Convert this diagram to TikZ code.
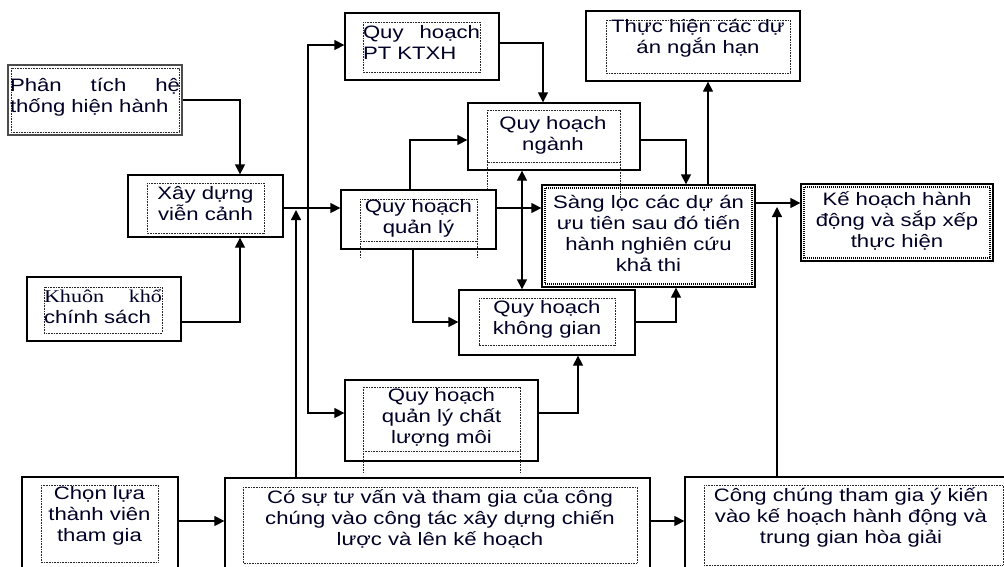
\documentclass[tikz,border=0pt]{standalone}
\usepackage{fontspec}
\setmainfont{Liberation Sans}[FakeStretch=1.23]
\newfontfamily\serifx{Liberation Serif}[FakeStretch=1.23]
\usetikzlibrary{arrows.meta}

\tikzset{
  frame/.style={draw=black, line width=1.3pt, inner sep=0pt},
  greyframe/.style={draw=black!70, line width=2.2pt, inner sep=0pt},
  dotframe/.style={draw=black!85, line width=0.8pt, dash pattern=on 0.8pt off 0.8pt},
  heavydots/.style={draw=black, line width=1.4pt, dash pattern=on 1pt off 1pt},
  lbl/.style={inner sep=0pt, align=center, font=\fontsize{18}{21}\selectfont, text=black!85!blue},
  jlbl/.style={lbl, align=left},
  link/.style={line width=1.3pt, -{Triangle[length=10pt,width=10pt]}},
  twoway/.style={line width=1.3pt, {Triangle[length=10pt,width=10pt]}-{Triangle[length=10pt,width=10pt]}},
}

% outer box: name, left, top, right, bottom
\newcommand\mkbox[6][frame]{\node[#1,minimum width={(#5)-(#3)},minimum height={(#6)-(#4)}] (#2) at ({((#3)+(#5))/2},{((#4)+(#6))/2}) {};}
% a line whose words are spread over a given width
\newcommand\spreadline[2]{\hbox to #1{#2}}

\begin{document}
\begin{tikzpicture}[x=1pt,y=-1pt]
\useasboundingbox (0,0) rectangle (1004,566);
\fill[white] (0,0) rectangle (1004,566);
\clip (0,0) rectangle (1004,566);

% ---- boxes ----
\mkbox[greyframe]{pt}{8}{65}{182}{135}
\draw[dotframe] (11,68) rectangle (179,132);
\node[jlbl, text width=170pt] at (95,97) {\spreadline{170pt}{Phân\hfill tích\hfill hệ}\\thống hiện hành};

\mkbox{xd}{128}{175}{283}{237}
\draw[dotframe] (147,183) rectangle (264,233);
\node[lbl] at (205.5,203.5) {Xây dựng\\viễn cảnh};

\mkbox{kk}{27}{277}{181}{341}
\draw[dotframe] (44,287) rectangle (162,333);
\node[jlbl, text width=118pt] at (103,307) {\spreadline{118pt}{\serifx Khuôn\hfill khổ}\\chính sách};

\mkbox{ptk}{345}{13}{499}{80}
\draw[dotframe] (363,22) rectangle (480,72);
\node[jlbl, text width=117pt] at (421.5,42.5) {\spreadline{117pt}{Quy\hfill hoạch}\\PT KTXH};

\mkbox{th}{586}{11}{800}{81}
\draw[dotframe] (606,20) rectangle (790,73);
\node[lbl] at (698,38.5) {Thực hiện các dự\\án ngắn hạn};

\mkbox{ng}{468}{103}{640}{170}
\draw[dotframe] (487,110) rectangle (620,162);
\draw[dotframe] (487,162) -- (487,190) (620,162) -- (620,200);
\node[lbl] at (553,135) {Quy hoạch\\ngành};

\mkbox{ql}{341}{190}{496}{249}
\draw[dotframe] (360,199) rectangle (477,241);
\draw[dotframe] (360,241) -- (360,258) (477,241) -- (477,258);
\node[lbl] at (418.5,218) {Quy hoạch\\quản lý};

\mkbox{sl}{542}{185}{755}{287}
\draw[heavydots] (545,188) rectangle (752,284);
\node[lbl] at (648.5,233) {Sàng lọc các dự án\\ưu tiên sau đó tiến\\hành nghiên cứu\\khả thi};

\mkbox{kh}{801}{184}{993}{261}
\draw[heavydots] (804,187) rectangle (990,258);
\node[lbl] at (897,221) {Kế hoạch hành\\động và sắp xếp\\thực hiện};

\mkbox{kg}{459}{290}{635}{355}
\draw[dotframe] (479,298) rectangle (615,345);
\node[lbl] at (547,319) {Quy hoạch\\không gian};

\mkbox{cl}{345}{380}{538}{461}
\draw[dotframe] (363,387) rectangle (520,451);
\draw[dotframe] (363,451) -- (363,472) (520,451) -- (520,472);
\node[lbl] at (441.5,418) {Quy hoạch\\quản lý chất\\lượng môi};

\mkbox{cv}{22}{477}{178}{590}
\draw[dotframe] (41,485) rectangle (158,562);
\node[lbl] at (99.5,515.5) {Chọn lựa\\thành viên\\tham gia};

\mkbox{cs}{225}{478}{650}{590}
\draw[dotframe] (243,487) rectangle (637,563);
\node[lbl] at (440,518.5) {Có sự tư vấn và tham gia của công\\chúng vào công tác xây dựng chiến\\lược và lên kế hoạch};

\mkbox{cc}{685}{477}{1012}{590}
\draw[dotframe] (704,485) rectangle (1003,565);
\node[lbl] at (851,517.5) {Công chúng tham gia ý kiến\\vào kế hoạch hành động và\\trung gian hòa giải};

% ---- connectors ----
\draw[link] (pt.east |- 0,100) -| (xd.north -| 240,0);
\draw[link] (kk.east |- 0,322) -| (xd.south -| 240,0);
\draw[link] (xd.east |- 0,208) -- (ql.west |- 0,208);
\coordinate (jn) at (308,208);
\draw[link] (jn) |- (ptk.west |- 0,45);
\draw[link] (jn) |- (cl.west |- 0,413);
\coordinate (upA) at (296,210);
\draw[link] (cs.north -| upA) -- (upA);
\draw[link] (ptk.east |- 0,43) -| (ng.north -| 543,0);
\draw[link] (ql.north -| 410,0) |- (ng.west |- 0,140);
\draw[link] (ql.east |- 0,208) -- (sl.west |- 0,208);
\draw[link] (ql.south -| 413,0) |- (kg.west |- 0,322);
\draw[twoway] (ng.south -| 522,0) -- (kg.north -| 522,0);
\draw[link] (ng.east |- 0,140) -| (sl.north -| 686,0);
\draw[link] (sl.north -| 708,0) -- (th.south -| 708,0);
\draw[link] (sl.east |- 0,203) -- (kh.west |- 0,203);
\coordinate (upB) at (777,207);
\draw[link] (cc.north -| upB) -- (upB);
\draw[link] (kg.east |- 0,322) -| (sl.south -| 676,0);
\draw[link] (cl.east |- 0,413) -| (kg.south -| 578,0);
\draw[link] (cv.east |- 0,521) -- (cs.west |- 0,521);
\draw[link] (cs.east |- 0,521) -- (cc.west |- 0,521);
\end{tikzpicture}
\end{document}
